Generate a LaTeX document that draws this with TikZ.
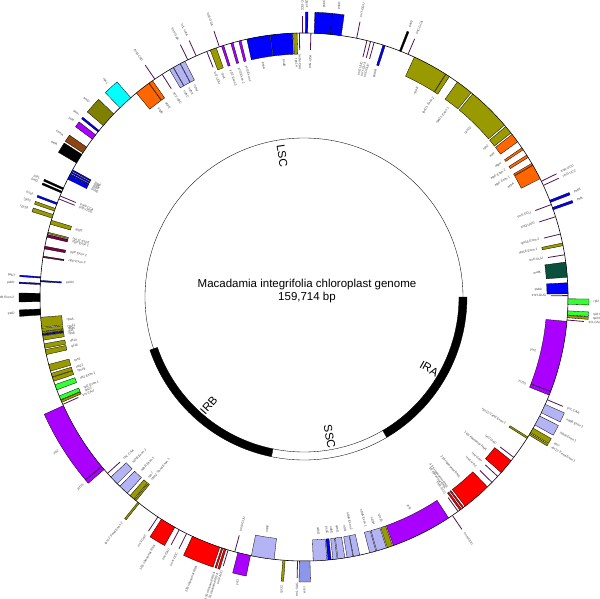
\documentclass[tikz,border=0pt]{standalone}
\usepackage{fontspec}
\setmainfont{Liberation Sans}

\definecolor{psgene}{RGB}{0,0,255}
\definecolor{rpgene}{RGB}{153,153,0}
\definecolor{atpgene}{RGB}{255,102,0}
\definecolor{ndhgene}{RGB}{180,180,245}
\definecolor{ycfgene}{RGB}{170,0,255}
\definecolor{rrngene}{RGB}{255,0,0}
\definecolor{matgene}{RGB}{10,80,60}
\definecolor{rplgene}{RGB}{51,255,51}
\definecolor{rbcgene}{RGB}{0,255,255}
\definecolor{accgene}{RGB}{128,128,0}
\definecolor{cemgene}{RGB}{140,70,20}
\definecolor{petgene}{RGB}{0,0,0}
\definecolor{clpgene}{RGB}{120,0,70}
\definecolor{trngene}{RGB}{80,20,80}
\definecolor{ccsgene}{RGB}{140,150,235}
\definecolor{infgene}{RGB}{20,20,120}

\tikzset{
  genebox/.style={draw=black,line width=.3pt},
  trnaline/.style={draw=trngene,line width=.8pt},
  glabel/.style={font=\fontsize{3.2}{4}\selectfont,inner sep=.6pt,text=black!75},
  ringlabel/.style={font=\fontsize{11.5}{13}\selectfont,inner sep=0pt},
  title/.style={font=\fontsize{11.5}{13.5}\selectfont,inner sep=0pt}
}

\newcounter{lab}
\newcommand{\glabel}[4]{%
  \pgfmathsetmacro{\gs}{cos(#1)>0 ? 1 : -1}%
  \pgfmathsetmacro{\grot}{#1+90-90*\gs}%
  \pgfmathtruncatemacro{\gw}{(#2)*(\gs)}%
  \ifnum\gw>0 \def\ganc{west}\else\def\ganc{east}\fi
  \stepcounter{lab}%
  \node[glabel,anchor=\ganc,rotate=\grot] (lab\thelab) at (#1:#3) {#4};}
\newcommand{\gene}[5]{%
  \pgfmathsetmacro{\gr}{264+21*(#3)}%
  \filldraw[genebox,fill=#4] (#1:264) arc[start angle=#1,end angle=#2,radius=264] -- (#2:\gr) arc[start angle=#2,end angle=#1,radius=\gr] -- cycle;
  \pgfmathsetmacro{\gm}{(#1+#2)/2}%
  \pgfmathsetmacro{\gl}{264+25*(#3)}%
  \glabel{\gm}{#3}{\gl}{#5}}
\newcommand{\trna}[3]{%
  \pgfmathsetmacro{\gr}{264+17*(#2)}%
  \draw[trnaline] (#1:264) -- (#1:\gr);
  \pgfmathsetmacro{\gl}{264+21*(#2)}%
  \glabel{#1}{#2}{\gl}{#3}}

\begin{document}
\begin{tikzpicture}[x=1pt,y=1pt,line width=.35pt]
\useasboundingbox (-304,-301) rectangle (296,297);
\draw[line width=.6pt] (0,0) circle[radius=264];
\draw (0,0) circle[radius=159];
\foreach \a/\b/\f in {0/-59.5/black,199/258.5/black,-59.5/-101.5/white}{\filldraw[fill=\f] (\a:155) arc[start angle=\a,end angle=\b,radius=155] -- (\b:163) arc[start angle=\b,end angle=\a,radius=163] -- cycle;}
\node[ringlabel,anchor=west,rotate=-81.2] (lsc) at (98.8:154) {LSC};
\node[ringlabel,anchor=east,rotate=-29.8] (ira) at (-29.8:154) {IRA};
\node[ringlabel,anchor=east,rotate=-79.6] (ssc) at (-79.6:154) {SSC};
\node[ringlabel,anchor=west,rotate=48.7] (irb) at (-131.3:154) {IRB};
\node[title] (name) at (3,12) {Macadamia integrifolia chloroplast genome};
\node[title] (size) at (3,-1) {159,714 bp};

\foreach \a/\b/\s/\c/\t in {0.7/3.1/-1/psgene/psbA,4.3/7.6/-1/matgene/matK,11.2/11.8/-1/rpgene/rps16 Exon 1,
  19.3/19.8/1/psgene/psbI,21.0/21.5/1/psgene/psbK,26.6/29.9/-1/atpgene/atpA,30.0/30.4/-1/atpgene/atpF Exon 1,
  31.9/32.5/-1/atpgene/atpF Exon 2,33.9/34.4/-1/atpgene/atpH,36.0/38.0/-1/atpgene/atpI,38.4/40.2/-1/rpgene/rps2,
  40.6/50.3/-1/rpgene/rpoC2,50.7/54.5/-1/rpgene/rpoC1 Exon 1,56.6/57.5/-1/rpgene/rpoC1 Exon 2,57.6/65.3/-1/rpgene/rpoB,
  68.4/68.8/1/petgene/petN,72.1/72.6/-1/psgene/psbM,81.9/84.3/1/psgene/psbD,84.3/87.8/1/psgene/psbC,
  89.2/89.7/1/psgene/psbZ,91.5/92.3/-1/rpgene/rps14,92.5/97.3/-1/psgene/psaB,97.4/102.5/-1/psgene/psaA,
  103.8/104.3/-1/ycfgene/ycf3 Exon 1,105.6/106.1/-1/ycfgene/ycf3 Exon 2,107.7/108.2/-1/ycfgene/ycf3 Exon 3,
  109.4/110.8/-1/rpgene/rps4,116.8/117.9/-1/ndhgene/ndhJ,118.0/119.6/-1/ndhgene/ndhK,119.7/120.6/-1/ndhgene/ndhC,
  125.0/125.9/-1/atpgene/atpE,126.0/129.4/-1/atpgene/atpB,131.0/134.2/1/rbcgene/rbcL,136.1/139.5/1/accgene/accD,
  140.9/141.3/1/psgene/psaI,142.1/143.3/1/ycfgene/ycf4,145.4/146.9/1/cemgene/cemA,147.3/149.5/1/petgene/petA,
  151.2/151.5/-1/psgene/psbJ,151.7/152.0/-1/psgene/psbL,152.2/152.5/-1/psgene/psbF,152.6/153.5/-1/psgene/psbE,
  155.6/156.0/1/petgene/petL,156.4/156.8/1/petgene/petG,159.1/159.5/1/psgene/psaJ,160.4/161.0/1/rpgene/rpl33,
  161.8/162.6/1/rpgene/rps18,163.1/164.0/-1/rpgene/rpl20,165.8/166.1/-1/rpgene/rps12 5'end,
  166.3/166.9/-1/clpgene/clpP Exon 1,168.9/169.5/-1/clpgene/clpP Exon 2,171.1/171.4/-1/clpgene/clpP Exon 3,
  175.6/175.9/1/psgene/psbT,176.4/176.7/-1/psgene/psbN,177.0/177.3/1/psgene/psbH,
  179.2/181.0/1/petgene/petB Exon 2,182.6/183.9/1/petgene/petD,184.4/186.6/-1/rpgene/rpoA,
  186.8/187.5/-1/rpgene/rps11,187.6/187.9/-1/rpgene/rpl36,188.0/188.4/-1/infgene/infA,188.5/189.4/-1/rpgene/rps8,
  190.2/191.2/-1/rpgene/rpl14,191.5/192.6/-1/rpgene/rpl16,194.8/196.3/-1/rpgene/rps3,196.8/197.6/-1/rpgene/rpl22,
  197.7/198.6/-1/rpgene/rps19}{\gene{\a}{\b}{\s}{\c}{\t}}

\foreach \a/\s/\t in {0.3/-1/trnH-GUG,9.2/-1/trnK-UUU,13.8/-1/rps16 Exon 2,17.7/-1/trnQ-UUG,20.5/-1/trnS-GCU,
  25.0/1/trnG-UCC,26.0/1/trnR-UCU,66.8/1/trnC-GCA,74.6/-1/trnD-GUC,75.4/-1/trnY-GUA,76.2/-1/trnE-UUC,
  78.5/1/trnT-GGU,88.5/-1/trnS-UGA,90.3/1/trnG-GCC,91.0/-1/trnfM-CAU,108.7/1/trnS-GGA,111.6/-1/trnT-UGU,
  114.1/1/trnL-UAA,116.1/1/trnF-GAA,122.5/-1/trnV-UAC,124.4/1/trnM-CAU,157.5/-1/trnW-CCA,158.2/-1/trnP-UGG,
  -91.4/1/trnL-UAG}{\trna{\a}{\s}{\t}}

\foreach \d/\e/\s/\c/\t in {0.4/1.6/1/rplgene/rpl2 Exon 2,3.0/3.9/1/rplgene/rpl2 Exon 1,4.0/4.5/1/rpgene/rpl23,
  5.3/20.9/-1/ycfgene/ycf2,21.0/21.8/-1/ycfgene/ycf15,24.0/26.0/1/ndhgene/ndhB Exon 2,26.8/29.0/1/ndhgene/ndhB Exon 1,
  29.8/30.9/1/rpgene/rps7,31.1/31.5/1/rpgene/rps12 3'end Exon 1,32.0/32.4/-1/rpgene/rps12 3'end Exon 2,
  38.3/41.7/-1/rrngene/16S ribosomal RNA,46.0/52.4/-1/rrngene/23S ribosomal RNA,
  52.8/53.1/-1/rrngene/4.5S ribosomal RNA,53.4/53.8/-1/rrngene/5S ribosomal RNA}{
  \pgfmathsetmacro{\pa}{-\d}\pgfmathsetmacro{\pb}{-\e}
  \pgfmathsetmacro{\qa}{199+\d}\pgfmathsetmacro{\qb}{199+\e}
  \pgfmathtruncatemacro{\ns}{-1*\s}
  \gene{\pa}{\pb}{\s}{\c}{\t}
  \gene{\qa}{\qb}{\ns}{\c}{\t}}

\foreach \d/\s/\t in {5.0/1/trnI-CAU,22.9/1/trnL-CAA,37.4/-1/trnV-GAC,42.8/-1/trnI-GAU,44.6/-1/trnA-UGC,
  54.3/-1/trnR-ACG,55.8/1/trnN-GUU}{
  \pgfmathsetmacro{\pa}{-\d}\pgfmathsetmacro{\qa}{199+\d}
  \pgfmathtruncatemacro{\ns}{-1*\s}
  \trna{\pa}{\s}{\t}
  \trna{\qa}{\ns}{\t}}

\foreach \a/\b/\s/\c/\t in {-56.8/-70.2/-1/ycfgene/ycf1,-70.4/-71.6/-1/rpgene/rps15,-71.8/-74.0/-1/ndhgene/ndhH,
  -74.2/-75.6/-1/ndhgene/ndhA Exon 1,-77.8/-79.2/-1/ndhgene/ndhA Exon 2,-79.3/-80.6/-1/ndhgene/ndhI,
  -81.1/-82.6/-1/ndhgene/ndhG,-82.8/-83.7/-1/ndhgene/ndhE,-84.1/-84.8/-1/psgene/psaC,-85.0/-88.0/-1/ndhgene/ndhD,
  -88.7/-91.0/1/ccsgene/ccsA,-94.1/-94.6/1/rpgene/rpl32,-96.5/-101.5/-1/ndhgene/ndhF,
  255.5/258.3/1/ycfgene/ycf1}{\gene{\a}{\b}{\s}{\c}{\t}}
\end{tikzpicture}
\end{document}
